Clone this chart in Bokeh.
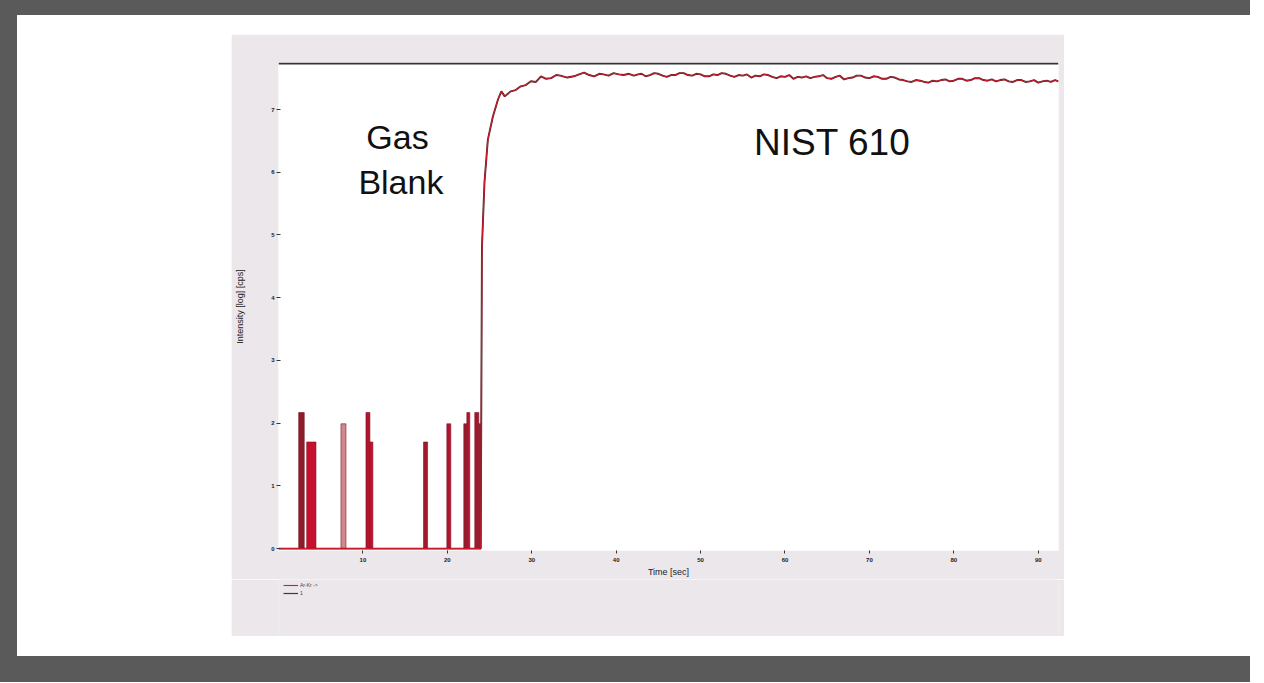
from bokeh.plotting import figure
from bokeh.models import (Range1d, FixedTicker, Span, Label, Legend, LegendItem,
                          Spacer, ColumnDataSource)
from bokeh.layouts import column, row
from bokeh.embed import file_html
from bokeh.resources import INLINE

# ---------------- data ----------------
x_ticks = [10, 20, 30, 40, 50, 60, 70, 80, 90]
y_ticks = [0, 1, 2, 3, 4, 5, 6, 7]

# gas blank spikes (time start, time end, intensity)
spike_left = [2.39, 3.34, 7.40, 10.36, 10.83, 17.18, 19.94, 21.95, 22.31, 23.25, 23.73]
spike_right = [3.05, 4.44, 7.99, 10.83, 11.18, 17.66, 20.41, 22.31, 22.66, 23.73, 23.96]
spike_top = [2.17, 1.70, 1.99, 2.17, 1.70, 1.70, 1.99, 1.99, 2.17, 2.17, 1.99]

# NIST 610 signal
time = [0.0, 23.96, 24.1, 24.4, 24.8, 25.4, 26.0, 26.4, 26.8, 27.5, 28.1, 28.7, 29.3, 29.9,
        30.5, 31.1, 31.7, 32.3, 32.9, 33.4, 34.2, 35.0, 35.6, 36.2, 36.8, 37.4, 38.0, 38.5,
        39.1, 39.7, 40.3, 40.9, 41.5, 42.1, 42.6, 43.0, 43.5, 44.0, 44.5, 45.0, 45.5, 46.0,
        46.5, 47.0, 47.5, 48.0, 48.5, 49.0, 49.5, 50.0, 50.5, 51.0, 51.5, 52.0, 52.5, 53.0,
        53.5, 54.0, 54.5, 55.0, 55.5, 56.0, 56.5, 57.0, 57.5, 58.0, 58.5, 59.0, 59.5, 60.0,
        60.5, 61.0, 61.5, 62.0, 62.5, 63.0, 63.5, 64.0, 64.5, 65.0, 65.5, 66.0, 66.5, 67.0,
        67.5, 68.0, 68.5, 69.0, 69.5, 70.0, 70.5, 71.0, 71.5, 72.0, 72.5, 73.0, 73.5, 74.0,
        74.5, 75.0, 75.5, 76.0, 76.5, 77.0, 77.5, 78.0, 78.5, 79.0, 79.5, 80.0, 80.5, 81.0,
        81.5, 82.0, 82.5, 83.0, 83.5, 84.0, 84.5, 85.0, 85.5, 86.0, 86.5, 87.0, 87.5, 88.0,
        88.5, 89.0, 89.5, 90.0, 90.5, 91.0, 91.5, 92.0, 92.4]
intensity = [0.0, 0.0, 4.80, 5.84, 6.52, 6.89, 7.16, 7.29, 7.21, 7.29, 7.31, 7.37, 7.39, 7.45,
             7.44, 7.53, 7.49, 7.50, 7.55, 7.54, 7.51, 7.53, 7.56, 7.59, 7.55, 7.53, 7.57, 7.56,
             7.54, 7.58, 7.56, 7.55, 7.57, 7.54, 7.56, 7.57, 7.53, 7.55, 7.58, 7.57, 7.54, 7.52,
             7.55, 7.55, 7.58, 7.58, 7.55, 7.54, 7.57, 7.56, 7.53, 7.53, 7.56, 7.55, 7.58, 7.57,
             7.54, 7.52, 7.55, 7.54, 7.56, 7.51, 7.54, 7.53, 7.56, 7.55, 7.52, 7.50, 7.53, 7.52,
             7.55, 7.49, 7.52, 7.51, 7.53, 7.50, 7.52, 7.53, 7.55, 7.50, 7.49, 7.52, 7.54, 7.48,
             7.50, 7.51, 7.54, 7.54, 7.51, 7.50, 7.53, 7.52, 7.49, 7.49, 7.52, 7.51, 7.48, 7.47,
             7.45, 7.44, 7.47, 7.46, 7.44, 7.43, 7.46, 7.45, 7.47, 7.48, 7.45, 7.46, 7.49, 7.49,
             7.46, 7.47, 7.50, 7.50, 7.47, 7.46, 7.48, 7.45, 7.47, 7.48, 7.45, 7.44, 7.47, 7.47,
             7.44, 7.45, 7.47, 7.43, 7.45, 7.46, 7.44, 7.47, 7.45]

legend_labels = ["Ar-Kr ->", "1"]

spike_fill = ["#8e1b2b", "#c8102e", "#d08a8d", "#b3132c", "#c8102e", "#a3182b",
              "#b3132c", "#9a1a2b", "#b3132c", "#a3182b", "#c8102e"]

FONT = "Liberation Sans"
PANEL = "#ebe7ea"
RED = "#d7192b"
DARKRED = "#5a2228"

p = figure(width=833, height=545, output_backend="svg", toolbar_location=None,
           x_range=Range1d(0, 92.4), y_range=Range1d(-0.03, 7.75),
           min_border_left=47, min_border_right=6, min_border_top=28, min_border_bottom=27,
           background_fill_color="white", border_fill_color=PANEL,
           outline_line_color=None)
p.grid.visible = False

# axes
p.xaxis.ticker = FixedTicker(ticks=x_ticks)
p.yaxis.ticker = FixedTicker(ticks=y_ticks)
for ax in (p.xaxis[0], p.yaxis[0]):
    ax.axis_line_color = None
    ax.major_tick_line_color = "#333333"
    ax.minor_tick_line_color = None
    ax.major_label_text_font = FONT
    ax.major_label_text_font_size = "6px"
    ax.major_label_text_font_style = "bold"
    ax.major_label_text_color = "#222222"
    ax.axis_label_text_font = FONT
    ax.axis_label_text_font_style = "normal"
    ax.axis_label_text_color = "#222222"
p.xaxis.major_tick_in = 0
p.xaxis.major_tick_out = 3
p.xaxis.major_label_standoff = 4
p.xaxis.axis_label = "Time [sec]"
p.xaxis.axis_label_text_font_size = "9px"
p.xaxis.axis_label_standoff = 2
p.yaxis.major_tick_in = 2
p.yaxis.major_tick_out = 2
p.yaxis.major_label_standoff = 2
p.yaxis.axis_label = "Intensity [log] [cps]"
p.yaxis.axis_label_text_font_size = "9px"
p.yaxis.axis_label_standoff = 23

# dark line along the top of the plot area
p.add_layout(Span(location=7.735, dimension="width", line_color="#333333", line_width=2))

# gas blank spikes
src = ColumnDataSource(dict(left=spike_left, right=spike_right, top=spike_top,
                            bottom=[0] * len(spike_top), fill=spike_fill))
p.quad(left="left", right="right", top="top", bottom="bottom", source=src,
       fill_color="fill", line_color="#7a1525", line_width=0.6)

# signal lines
p.line(time, intensity, line_color=DARKRED, line_width=1.9)
p.line(time, intensity, line_color=RED, line_width=1.0)

# annotations
for txt, x, y, fs in [("Gas", 14.1, 6.57, "34px"), ("Blank", 14.5, 5.84, "34px"),
                      ("NIST 610", 65.6, 6.47, "37px")]:
    p.add_layout(Label(x=x, y=y, text=txt, text_align="center", text_baseline="alphabetic",
                       text_font=FONT, text_font_size=fs, text_color="#111111"))

# legend strip below the chart (same grey panel); the series are drawn off-range here,
# only their legend swatches are visible
pl = figure(width=833, height=57, output_backend="svg", toolbar_location=None,
            x_axis_type=None, y_axis_type=None, min_border_left=47, min_border_right=6,
            min_border_top=0, min_border_bottom=0,
            x_range=Range1d(0, 92.4), y_range=Range1d(50, 51),
            background_fill_color=PANEL, border_fill_color=PANEL, outline_line_color=None)
pl.grid.visible = False
lr_red = pl.line(time, intensity, line_color=RED, line_width=1.1)
lr_dark = pl.line(time, intensity, line_color="#3a3a3a", line_width=1.2)
legend = Legend(items=[LegendItem(label=legend_labels[0], renderers=[lr_red]),
                       LegendItem(label=legend_labels[1], renderers=[lr_dark])],
                location=(5, 40), orientation="vertical",
                label_text_font=FONT, label_text_font_size="5px", label_text_color="#444444",
                glyph_width=15, glyph_height=6, label_standoff=2, spacing=2,
                padding=1, margin=0, label_height=6,
                background_fill_alpha=0, border_line_color=None)
pl.add_layout(legend, "center")

DARK = "#5a5a5a"
layout = column(
    Spacer(width=1250, height=15, styles={"background-color": DARK}),
    row(
        Spacer(width=17, height=641, styles={"background-color": DARK}),
        column(
            Spacer(width=1233, height=19),
            row(Spacer(width=214, height=602), column(p, pl), Spacer(width=186, height=602)),
            Spacer(width=1233, height=20),
        ),
    ),
    Spacer(width=1250, height=26, styles={"background-color": DARK}),
)

open("out.html", "w").write(file_html(layout, INLINE))
